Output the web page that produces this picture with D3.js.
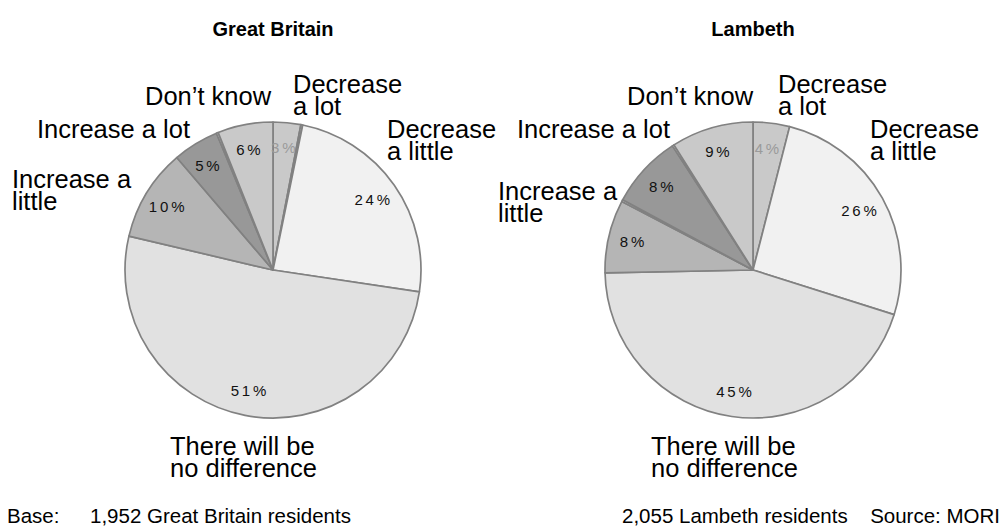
<!DOCTYPE html>
<html>
<head>
<meta charset="utf-8">
<script src="https://cdn.jsdelivr.net/npm/d3@7"></script>
<style>
  html, body { margin: 0; padding: 0; background: #fff; }
  svg { display: block; font-family: "Liberation Sans", Arial, Helvetica, sans-serif; }
</style>
</head>
<body>
<svg id="chart" width="1004" height="530"></svg>
<script>
// Survey answers, clockwise from 12 o'clock
const categories = ["Decrease a lot", "Decrease a little", "There will be no difference",
                    "Increase a little", "Increase a lot", "Don't know"];
const britainValues = [3, 24, 51, 10, 5, 6];
const lambethValues = [4, 26, 45, 8, 8, 9];
// thin unlabelled remainders that follow a category
const britainRemainders = [0.2, 0, 0, 0, 0.2, 0];
const lambethRemainders = [0, 0, 0, 0.2, 0.2, 0];
const titles = ["Great Britain", "Lambeth"];
const footnotes = ["1,952 Great Britain residents", "2,055 Lambeth residents"];

const W = 1004, H = 530;
const svg = d3.select("#chart");

const fills = d3.scaleOrdinal()
  .domain(categories)
  .range(["#c9c9c9", "#f1f1f1", "#e1e1e1", "#b5b5b5", "#989898", "#c9c9c9"]);
const remainderFill = "#ececec";

// outside label layout for each category: anchor point and text lines
const labelLayouts = [
  {
    "Decrease a lot":              { x: 293, y: 93,  anchor: "start", lines: ["Decrease", "a lot"] },
    "Decrease a little":           { x: 387, y: 138, anchor: "start", lines: ["Decrease", "a little"] },
    "There will be no difference": { x: 170, y: 455, anchor: "start", lines: ["There will be", "no difference"] },
    "Increase a little":           { x: 12,  y: 188, anchor: "start", lines: ["Increase a", "little"] },
    "Increase a lot":              { x: 190, y: 138, anchor: "end",   lines: ["Increase a lot"] },
    "Don't know":                  { x: 145, y: 105, anchor: "start", lines: ["Don\u2019t know"] }
  },
  {
    "Decrease a lot":              { x: 778, y: 93,  anchor: "start", lines: ["Decrease", "a lot"] },
    "Decrease a little":           { x: 870, y: 138, anchor: "start", lines: ["Decrease", "a little"] },
    "There will be no difference": { x: 651, y: 455, anchor: "start", lines: ["There will be", "no difference"] },
    "Increase a little":           { x: 498, y: 200, anchor: "start", lines: ["Increase a", "little"] },
    "Increase a lot":              { x: 670, y: 138, anchor: "end",   lines: ["Increase a lot"] },
    "Don't know":                  { x: 627, y: 105, anchor: "start", lines: ["Don\u2019t know"] }
  }
];

const pies = [
  { cx: 273, cy: 270, r: 148, values: britainValues, rem: britainRemainders },
  { cx: 753, cy: 270, r: 148, values: lambethValues, rem: lambethRemainders }
];

const pie = d3.pie().sort(null).value(d => d.value).startAngle(0).endAngle(2 * Math.PI);

pies.forEach((p, i) => {
  const rows = [];
  categories.forEach((c, k) => {
    rows.push({ name: c, value: p.values[k], label: true });
    if (p.rem[k] > 0) rows.push({ name: null, value: p.rem[k], label: false });
  });

  const g = svg.append("g").attr("transform", `translate(${p.cx},${p.cy})`);
  const arc = d3.arc().innerRadius(0).outerRadius(p.r);
  const labelArc = d3.arc().innerRadius(p.r * 0.83).outerRadius(p.r * 0.83);

  const arcs = pie(rows);

  g.selectAll("path.slice")
    .data(arcs)
    .join("path")
    .attr("class", "slice")
    .attr("d", arc)
    .attr("fill", d => d.data.name ? fills(d.data.name) : remainderFill)
    .attr("stroke", "#818181")
    .attr("stroke-width", 1.7)
    .attr("stroke-linejoin", "round");

  g.selectAll("text.pct")
    .data(arcs.filter(d => d.data.label))
    .join("text")
    .attr("class", "pct")
    .attr("transform", d => `translate(${labelArc.centroid(d)})`)
    .attr("text-anchor", "middle")
    .attr("dy", "0.36em")
    .attr("font-size", 15)
    .attr("letter-spacing", 2.8)
    .attr("fill", d => d.data.name === "Decrease a lot" ? "#9a9a9a" : "#111")
    .text(d => d.data.value + "%");

  // title
  svg.append("text")
    .attr("x", p.cx)
    .attr("y", 36)
    .attr("text-anchor", "middle")
    .attr("font-size", 20)
    .attr("font-weight", "bold")
    .attr("fill", "#000")
    .text(titles[i]);

  // category labels
  const layout = labelLayouts[i];
  categories.forEach(c => {
    const L = layout[c];
    const t = svg.append("text")
      .attr("x", L.x)
      .attr("y", L.y)
      .attr("text-anchor", L.anchor)
      .attr("font-size", 25.5)
      .attr("fill", "#000");
    L.lines.forEach((ln, j) => {
      t.append("tspan").attr("x", L.x).attr("y", L.y + j * 22).text(ln);
    });
  });
});

// footer
const foot = svg.append("g").attr("font-size", 20.5).attr("fill", "#000");
foot.append("text").attr("x", 7).attr("y", 523).text("Base:");
foot.append("text").attr("x", 90).attr("y", 523).text(footnotes[0]);
foot.append("text").attr("x", 622).attr("y", 523).text(footnotes[1]);
foot.append("text").attr("x", 1000).attr("y", 523).attr("text-anchor", "end").text("Source: MORI");
</script>
</body>
</html>
